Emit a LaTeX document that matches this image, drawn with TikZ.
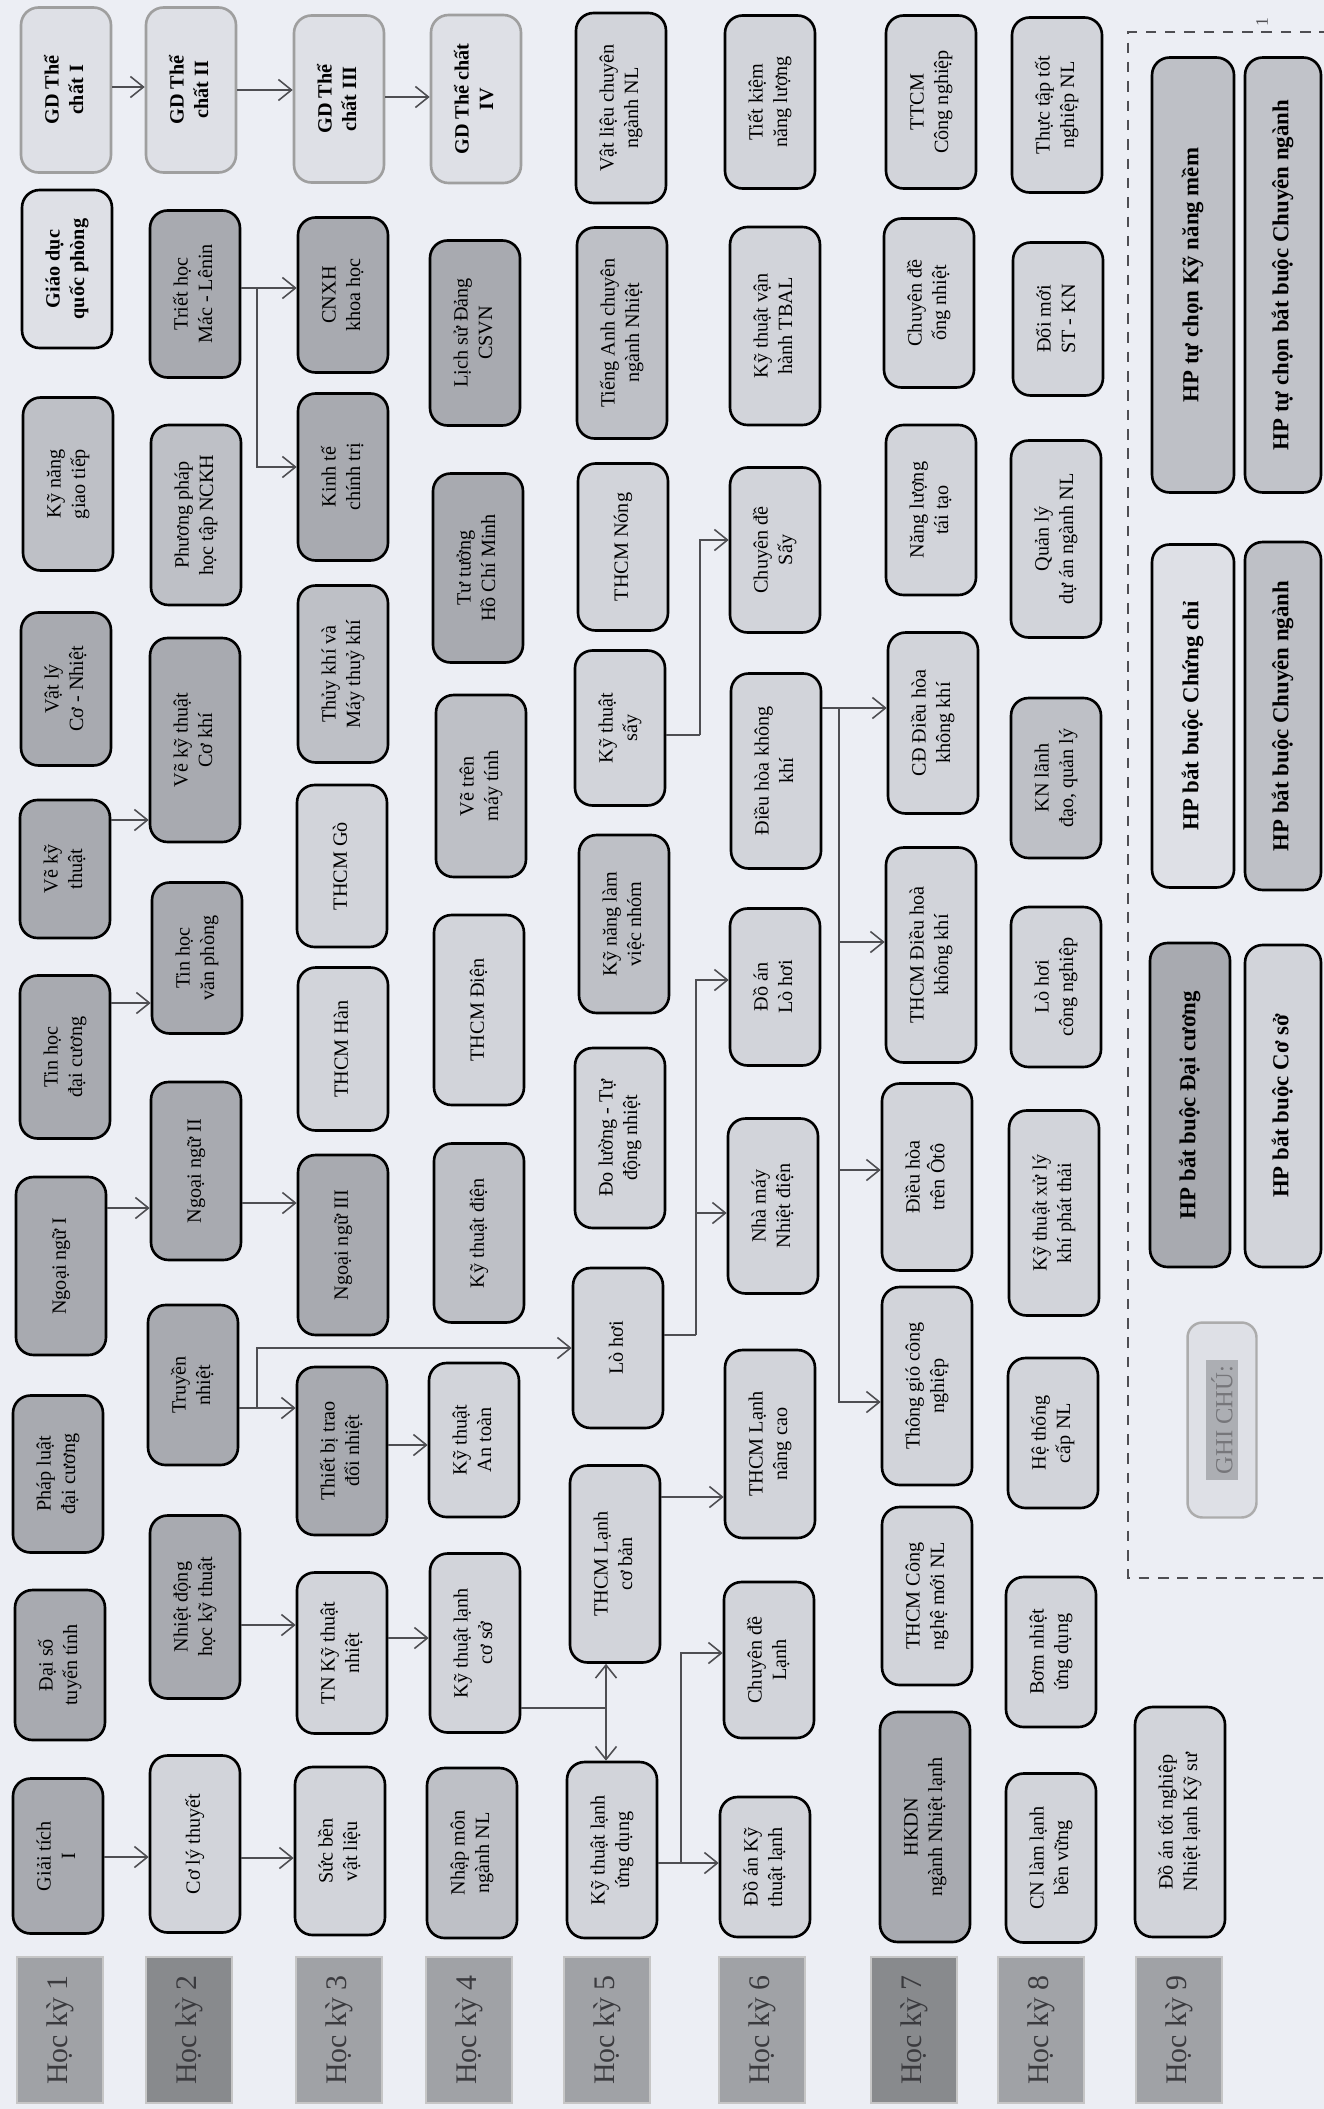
\documentclass[tikz,border=0pt]{standalone}
\usepackage{fontspec}
\setmainfont{Liberation Serif}
\usetikzlibrary{arrows.meta,positioning}
\definecolor{paper}{RGB}{236,238,244}
\definecolor{fdark}{RGB}{168,170,176}
\definecolor{fmid}{RGB}{190,192,198}
\definecolor{flight}{RGB}{210,212,218}
\definecolor{fpale}{RGB}{222,224,230}
\definecolor{lineg}{RGB}{78,78,82}
\definecolor{hkfill}{RGB}{160,162,166}
\definecolor{hktext}{RGB}{58,58,62}
\definecolor{hlgray}{RGB}{172,174,179}
\definecolor{hltext}{RGB}{118,118,122}
\newcommand{\vt}[1]{\rotatebox{90}{\begin{tabular}{@{}c@{}}#1\end{tabular}}}

\begin{document}
\begin{tikzpicture}[x=0.02cm, y=-0.02cm,
    cbox/.style={draw=black, line width=1.5pt, rounded corners=0.35cm,
                 minimum width=1.8cm, inner sep=1pt,
                 font=\fontsize{11.5}{14}\selectfont},
    boxdark/.style={cbox, fill=fdark},
    boxmid/.style={cbox, fill=fmid},
    boxlight/.style={cbox, fill=flight},
    boxpale/.style={cbox, fill=fpale, font=\bfseries\fontsize{11.5}{14}\selectfont},
    gdbox/.style={boxpale, draw=gray!75},
    hklabel/.style={fill=hkfill, draw=gray!45, line width=0.8pt,
                    minimum width=1.72cm, minimum height=2.92cm, inner sep=0pt,
                    text=hktext, font=\fontsize{17}{20}\selectfont},
    legbox/.style={cbox, font=\bfseries\fontsize{13}{15}\selectfont},
    arr/.style={draw=lineg, line width=0.9pt,
                -{Straight Barb[length=2.6mm,width=4.2mm,line width=0.9pt]}},
    trunk/.style={draw=lineg, line width=0.9pt}
]
\fill[paper] (0,0) rectangle (1324,2109);
\useasboundingbox (0,0) rectangle (1324,2109);

% semester labels
\node[hklabel] (hk1) at (60,2030)   {\rotatebox{90}{Học kỳ 1}};
\node[hklabel, fill=hkfill!85!black] (hk2) at (189,2030) {\rotatebox{90}{Học kỳ 2}};
\node[hklabel] (hk3) at (339,2030)  {\rotatebox{90}{Học kỳ 3}};
\node[hklabel] (hk4) at (469,2030)  {\rotatebox{90}{Học kỳ 4}};
\node[hklabel] (hk5) at (607,2030)  {\rotatebox{90}{Học kỳ 5}};
\node[hklabel] (hk6) at (762,2030)  {\rotatebox{90}{Học kỳ 6}};
\node[hklabel, fill=hkfill!85!black] (hk7) at (914,2030) {\rotatebox{90}{Học kỳ 7}};
\node[hklabel] (hk8) at (1041,2030) {\rotatebox{90}{Học kỳ 8}};
\node[hklabel] (hk9) at (1179,2030) {\rotatebox{90}{Học kỳ 9}};

% semester 1
\node[gdbox,    minimum height=3.30cm] (gdtc1) at (66,90)   {\vt{GD Thể\\chất I}};
\node[boxpale,  minimum height=3.16cm] (gdqp)  at (67,269)  {\vt{Giáo dục\\quốc phòng}};
\node[boxmid,   minimum height=3.46cm] (kngt)  at (68,484)  {\vt{Kỹ năng\\giao tiếp}};
\node[boxdark,  minimum height=3.06cm] (vly)   at (66,689)  {\vt{Vật lý\\Cơ - Nhiệt}};
\node[boxdark,  minimum height=2.76cm] (vkt)   at (65,869)  {\vt{Vẽ kỹ\\thuật}};
\node[boxdark,  minimum height=3.26cm] (thdc)  at (65,1057) {\vt{Tin học\\đại cương}};
\node[boxdark,  minimum height=3.56cm] (nn1)   at (61,1266) {\vt{Ngoại ngữ I}};
\node[boxdark,  minimum height=3.14cm] (pldc)  at (58,1474) {\vt{Pháp luật\\đại cương}};
\node[boxdark,  minimum height=3.00cm] (dstt)  at (60,1665) {\vt{Đại số\\tuyến tính}};
\node[boxdark,  minimum height=3.10cm] (gt1)   at (58,1856) {\vt{Giải tích\\I}};

% semester 2
\node[gdbox,    minimum height=3.30cm] (gdtc2)  at (191,90)   {\vt{GD Thể\\chất II}};
\node[boxdark,  minimum height=3.34cm] (triet)  at (195,294)  {\vt{Triết học\\Mác - Lênin}};
\node[boxmid,   minimum height=3.60cm] (ppnckh) at (196,515)  {\vt{Phương pháp\\học tập NCKH}};
\node[boxdark,  minimum height=4.08cm] (vkck)   at (195,740)  {\vt{Vẽ kỹ thuật\\Cơ khí}};
\node[boxdark,  minimum height=3.02cm] (thvp)   at (197,958)  {\vt{Tin học\\văn phòng}};
\node[boxdark,  minimum height=3.56cm] (nn2)    at (196,1171) {\vt{Ngoại ngữ II}};
\node[boxdark,  minimum height=3.20cm] (tn)     at (193,1385) {\vt{Truyền\\nhiệt}};
\node[boxdark,  minimum height=3.66cm] (ndh)    at (195,1607) {\vt{Nhiệt động\\học kỹ thuật}};
\node[boxlight, minimum height=3.54cm] (clt)    at (195,1844) {\vt{Cơ lý thuyết}};

% semester 3
\node[gdbox,    minimum height=3.34cm] (gdtc3) at (339,99)   {\vt{GD Thể\\chất III}};
\node[boxdark,  minimum height=3.10cm] (cnxh)  at (343,295)  {\vt{CNXH\\khoa học}};
\node[boxdark,  minimum height=3.34cm] (ktct)  at (343,477)  {\vt{Kinh tế\\chính trị}};
\node[boxmid,   minimum height=3.54cm] (tk)    at (343,674)  {\vt{Thủy khí và\\Máy thuỷ khí}};
\node[boxlight, minimum height=3.24cm] (go)    at (342,866)  {\vt{THCM Gò}};
\node[boxlight, minimum height=3.26cm] (han)   at (343,1049) {\vt{THCM Hàn}};
\node[boxdark,  minimum height=3.60cm] (nn3)   at (343,1245) {\vt{Ngoại ngữ III}};
\node[boxdark,  minimum height=3.36cm] (tbtdn) at (342,1451) {\vt{Thiết bị trao\\đổi nhiệt}};
\node[boxlight, minimum height=3.22cm] (tnktn) at (342,1653) {\vt{TN Kỹ thuật\\nhiệt}};
\node[boxlight, minimum height=3.36cm] (sbvl)  at (340,1851) {\vt{Sức bền\\vật liệu}};

% semester 4
\node[gdbox,    minimum height=3.36cm] (gdtc4) at (476,99)   {\vt{GD Thể chất\\IV}};
\node[boxdark,  minimum height=3.70cm] (lsd)   at (475,333)  {\vt{Lịch sử Đảng\\CSVN}};
\node[boxdark,  minimum height=3.78cm] (tthcm) at (478,568)  {\vt{Tư tưởng\\Hồ Chí Minh}};
\node[boxmid,   minimum height=3.64cm] (vtmt)  at (481,786)  {\vt{Vẽ trên\\máy tính}};
\node[boxlight, minimum height=3.80cm] (dien)  at (479,1010) {\vt{THCM Điện}};
\node[boxmid,   minimum height=3.58cm] (ktd)   at (479,1233) {\vt{Kỹ thuật điện}};
\node[boxlight, minimum height=3.08cm] (ktat)  at (474,1440) {\vt{Kỹ thuật\\An toàn}};
\node[boxlight, minimum height=3.58cm] (ktlcs) at (475,1643) {\vt{Kỹ thuật lạnh\\cơ sở}};
\node[boxmid,   minimum height=3.40cm] (nmnl)  at (472,1853) {\vt{Nhập môn\\ngành NL}};

% semester 5
\node[boxlight, minimum height=3.80cm] (vlcn)   at (621,108)  {\vt{Vật liệu chuyên\\ngành NL}};
\node[boxmid,   minimum height=4.22cm] (tacn)   at (622,333)  {\vt{Tiếng Anh chuyên\\ngành Nhiệt}};
\node[boxlight, minimum height=3.34cm] (nong)   at (623,547)  {\vt{THCM Nóng}};
\node[boxlight, minimum height=3.10cm] (kts)    at (620,728)  {\vt{Kỹ thuật\\sấy}};
\node[boxmid,   minimum height=3.56cm] (knnhom) at (624,924)  {\vt{Kỹ năng làm\\việc nhóm}};
\node[boxlight, minimum height=3.60cm] (dl)     at (620,1138) {\vt{Đo lường - Tự\\động nhiệt}};
\node[boxlight, minimum height=3.20cm] (lh)     at (618,1348) {\vt{Lò hơi}};
\node[boxlight, minimum height=3.94cm] (lcb)    at (615,1564) {\vt{THCM Lạnh\\cơ bản}};
\node[boxlight, minimum height=3.52cm] (ktlud)  at (612,1850) {\vt{Kỹ thuật lạnh\\ứng dụng}};

% semester 6
\node[boxlight, minimum height=3.46cm] (tknl) at (770,102)  {\vt{Tiết kiệm\\năng lượng}};
\node[boxlight, minimum height=3.96cm] (tbal) at (775,326)  {\vt{Kỹ thuật vận\\hành TBAL}};
\node[boxlight, minimum height=3.30cm] (cds)  at (775,550)  {\vt{Chuyên đề\\Sấy}};
\node[boxlight, minimum height=3.90cm] (dhkk) at (776,771)  {\vt{Điều hòa không\\khí}};
\node[boxlight, minimum height=3.14cm] (dalh) at (775,987)  {\vt{Đồ án\\Lò hơi}};
\node[boxlight, minimum height=3.50cm] (nmnd) at (773,1206) {\vt{Nhà máy\\Nhiệt điện}};
\node[boxlight, minimum height=3.76cm] (lnc)  at (770,1444) {\vt{THCM Lạnh\\nâng cao}};
\node[boxlight, minimum height=3.12cm] (cdl)  at (769,1660) {\vt{Chuyên đề\\Lạnh}};
\node[boxlight, minimum height=2.80cm] (dakt) at (765,1867) {\vt{Đồ án Kỹ\\thuật lạnh}};

% semester 7
\node[boxlight, minimum height=3.46cm] (ttcm) at (931,102)  {\vt{TTCM\\Công nghiệp}};
\node[boxlight, minimum height=3.38cm] (ongn) at (929,303)  {\vt{Chuyên đề\\ống nhiệt}};
\node[boxlight, minimum height=3.40cm] (nltt) at (931,510)  {\vt{Năng lượng\\tái tạo}};
\node[boxlight, minimum height=3.62cm] (cddh) at (933,723)  {\vt{CĐ Điều hòa\\không khí}};
\node[boxlight, minimum height=4.30cm] (thdh) at (931,955)  {\vt{THCM Điều hoà\\không khí}};
\node[boxlight, minimum height=3.74cm] (oto)  at (927,1177) {\vt{Điều hòa\\trên Ôtô}};
\node[boxlight, minimum height=3.96cm] (tg)   at (927,1386) {\vt{Thông gió công\\nghiệp}};
\node[boxlight, minimum height=3.56cm] (cnm)  at (927,1596) {\vt{THCM Công\\nghệ mới NL}};
\node[boxdark,  minimum height=4.60cm] (hkdn) at (925,1827) {\vt{HKDN\\ngành Nhiệt lạnh}};

% semester 8
\node[boxlight, minimum height=3.50cm] (tttn) at (1057,105)  {\vt{Thực tập tốt\\nghiệp NL}};
\node[boxlight, minimum height=3.06cm] (dm)   at (1058,319)  {\vt{Đổi mới\\ST - KN}};
\node[boxlight, minimum height=3.94cm] (qlda) at (1056,539)  {\vt{Quản lý\\dự án ngành NL}};
\node[boxmid,   minimum height=3.20cm] (knld) at (1056,778)  {\vt{KN lãnh\\đạo, quản lý}};
\node[boxlight, minimum height=3.20cm] (lhcn) at (1056,987)  {\vt{Lò hơi\\công nghiệp}};
\node[boxlight, minimum height=4.10cm] (xlk)  at (1054,1213) {\vt{Kỹ thuật xử lý\\khí phát thải}};
\node[boxlight, minimum height=3.00cm] (htnl) at (1053,1433) {\vt{Hệ thống\\cấp NL}};
\node[boxlight, minimum height=3.00cm] (bn)   at (1051,1652) {\vt{Bơm nhiệt\\ứng dụng}};
\node[boxlight, minimum height=3.38cm] (cnll) at (1051,1858) {\vt{CN làm lạnh\\bền vững}};

% semester 9
\node[boxlight, minimum height=4.60cm] (datn) at (1180,1822) {\vt{Đồ án tốt nghiệp\\Nhiệt lạnh Kỹ sư}};

% legend
\draw[lineg, line width=1pt, dash pattern=on 6pt off 5pt]
    (1330,32) -- (1128,32) -- (1128,1578) -- (1330,1578);
\node[rotate=90, font=\normalsize, text=lineg] (pgno) at (1262,22) {1};
\node[draw=gray!65, line width=1.4pt, fill=fpale, rounded corners=0.3cm,
      minimum width=1.38cm, minimum height=3.9cm, inner sep=0pt,
      font=\fontsize{14}{16}\selectfont] (ghichu) at (1222,1420)
      {\rotatebox{90}{\colorbox{hlgray}{\textcolor{hltext}{GHI CHÚ:}}}};
\node[legbox, fill=fdark,  minimum width=1.60cm, minimum height=6.48cm] (lgdc) at (1190,1105) {\vt{HP bắt buộc Đại cương}};
\node[legbox, fill=flight, minimum width=1.52cm, minimum height=6.44cm] (lgcs) at (1283,1106) {\vt{HP bắt buộc Cơ sở}};
\node[legbox, fill=fpale,  minimum width=1.64cm, minimum height=6.86cm] (lgcc) at (1193,716)  {\vt{HP bắt buộc Chứng chỉ}};
\node[legbox, fill=fmid,   minimum width=1.52cm, minimum height=6.96cm] (lgcn) at (1283,716)  {\vt{HP bắt buộc Chuyên ngành}};
\node[legbox, fill=fmid,   minimum width=1.64cm, minimum height=8.70cm] (lgkn) at (1193,275)  {\vt{HP tự chọn Kỹ năng mềm}};
\node[legbox, fill=flight!92!black, minimum width=1.52cm, minimum height=8.70cm] (lgtc) at (1283,275) {\vt{HP tự chọn bắt buộc Chuyên ngành}};

% connectors
\draw[arr] (gdtc1.east |- 0,87) -- (gdtc2.west |- 0,87);
\draw[arr] (gdtc2.east |- 0,90) -- (gdtc3.west |- 0,90);
\draw[arr] (gdtc3.east |- 0,97) -- (gdtc4.west |- 0,97);

\coordinate (jtr) at (257,288);
\draw[trunk] (triet.east |- jtr) -- (jtr);
\draw[arr] (jtr) -- (cnxh.west |- jtr);
\draw[arr] (jtr) |- (ktct.west |- 0,467);

\draw[arr] (vkt.east |- 0,820) -- (vkck.west |- 0,820);
\draw[arr] (thdc.east |- 0,1003) -- (thvp.west |- 0,1003);
\draw[arr] (nn1.east |- 0,1208) -- (nn2.west |- 0,1208);
\draw[arr] (nn2.east |- 0,1203) -- (nn3.west |- 0,1203);

\coordinate (jtn) at (257,1408);
\draw[trunk] (tn.east |- jtn) -- (jtn);
\draw[arr] (jtn) -- (tbtdn.west |- jtn);
\draw[arr] (jtn) |- (lh.west |- 0,1348);

\draw[arr] (tbtdn.east |- 0,1445) -- (ktat.west |- 0,1445);
\draw[arr] (ndh.east |- 0,1625) -- (tnktn.west |- 0,1625);
\draw[arr] (tnktn.east |- 0,1638) -- (ktlcs.west |- 0,1638);
\draw[arr] (gt1.east |- 0,1857) -- (clt.west |- 0,1857);
\draw[arr] (clt.east |- 0,1858) -- (sbvl.west |- 0,1858);

\coordinate (jlcs) at (606,1708);
\draw[trunk] (ktlcs.east |- jlcs) -- (jlcs);
\draw[arr] (jlcs) -- (lcb.south -| jlcs);
\draw[arr] (jlcs) -- (ktlud.north -| jlcs);

\coordinate (jlud) at (681,1863);
\draw[trunk] (ktlud.east |- jlud) -- (jlud);
\draw[arr] (jlud) -- (dakt.west |- jlud);
\draw[arr] (jlud) |- (cdl.west |- 0,1653);

\draw[arr] (lcb.east |- 0,1497) -- (lnc.west |- 0,1497);

\coordinate (jlh) at (696,1335);
\draw[trunk] (lh.east |- jlh) -- (jlh);
\draw[arr] (jlh) |- (dalh.west |- 0,980);
\draw[arr] (jlh |- 0,1213) -- (nmnd.west |- 0,1213);

\coordinate (jks) at (700,735);
\draw[trunk] (kts.east |- jks) -- (jks);
\draw[arr] (jks) |- (cds.west |- 0,540);

\coordinate (jdh) at (839,708);
\draw[arr] (dhkk.east |- jdh) -- (cddh.west |- jdh);
\draw[arr] (jdh) |- (tg.west |- 0,1402);
\draw[arr] (jdh |- 0,942) -- (thdh.west |- 0,942);
\draw[arr] (jdh |- 0,1170) -- (oto.west |- 0,1170);
\end{tikzpicture}
\end{document}
